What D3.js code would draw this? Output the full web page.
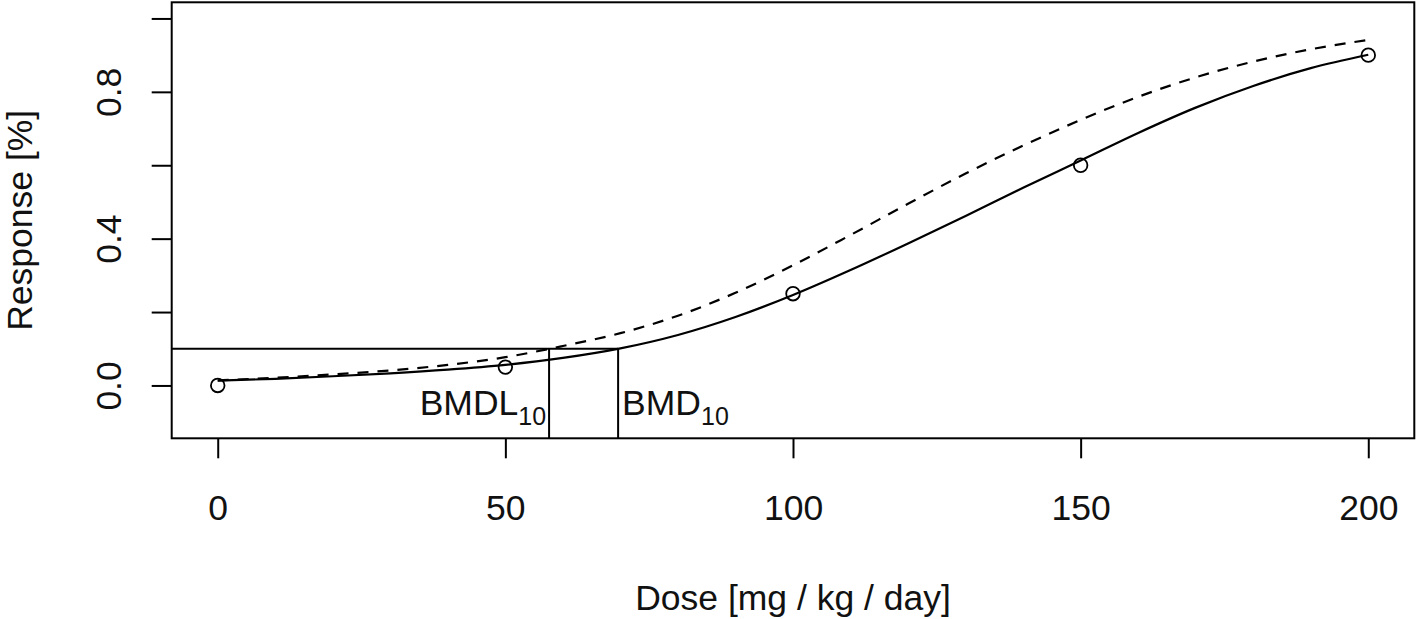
<!DOCTYPE html>
<html>
<head>
<meta charset="utf-8">
<script src="https://cdn.jsdelivr.net/npm/d3@7"></script>
<style>
  html, body { margin: 0; padding: 0; background: #fff; }
  svg { display: block; }
  text { font-family: "Liberation Sans", Arial, sans-serif; fill: #111; }
</style>
</head>
<body>
<svg id="chart" width="1418" height="619"></svg>
<script>
// ---- data ----
const doses = [0, 50, 100, 150, 200];
const responses = [0.0, 0.05, 0.25, 0.6, 0.9];

const curveDose = [0, 10, 20, 30, 40, 50, 60, 70, 80, 90, 100, 110, 120, 130, 140, 150, 160, 170, 180, 190, 200];
const fittedResp = [0.013, 0.018, 0.025, 0.033, 0.043, 0.056, 0.075, 0.101, 0.1375, 0.1865, 0.2465, 0.3145, 0.387, 0.462, 0.5385, 0.613, 0.688, 0.757, 0.816, 0.8645, 0.901];
const lowerResp  = [0.014, 0.021, 0.030, 0.041, 0.056, 0.077, 0.1075, 0.1425, 0.19, 0.2525, 0.3275, 0.41, 0.495, 0.5775, 0.6535, 0.7235, 0.7865, 0.8395, 0.8825, 0.916, 0.9415];

const bmr = 0.1;
const bmdl = 57.6;
const bmd = 69.6;

const xTicks = [0, 50, 100, 150, 200];
const xTickLabels = ["0", "50", "100", "150", "200"];
const yTicks = [0.0, 0.2, 0.4, 0.6, 0.8, 1.0];
const yTickLabels = ["0.0", "", "0.4", "", "0.8", ""];

const xTitle = "Dose [mg / kg / day]";
const yTitle = "Response [%]";

// ---- layout ----
const svg = d3.select("#chart");
const L = 171.7, R = 1414.3, T = 2.3, B = 438.3;
const x = d3.scaleLinear().domain([-8, 208]).range([L, R]);
const y = d3.scaleLinear().domain([-0.144, 1.044]).range([B, T]);
const FS = 35.5;

svg.append("defs").append("clipPath").attr("id", "plotclip")
  .append("rect").attr("x", L).attr("y", T).attr("width", R - L).attr("height", B - T);

const plot = svg.append("g").attr("clip-path", "url(#plotclip)");

// BMR horizontal line to BMD
plot.append("line")
  .attr("x1", x(-8)).attr("x2", x(bmd))
  .attr("y1", y(bmr)).attr("y2", y(bmr))
  .attr("stroke", "#000").attr("stroke-width", 2);
// vertical lines
[bmdl, bmd].forEach(v => {
  plot.append("line")
    .attr("x1", x(v)).attr("x2", x(v))
    .attr("y1", y(bmr)).attr("y2", B)
    .attr("stroke", "#000").attr("stroke-width", 2);
});

const line = d3.line().x((d, i) => x(curveDose[i])).y(d => y(d)).curve(d3.curveMonotoneX);

plot.append("path").datum(fittedResp)
  .attr("d", line).attr("fill", "none")
  .attr("stroke", "#000").attr("stroke-width", 2.2);

plot.append("path").datum(lowerResp)
  .attr("d", line).attr("fill", "none")
  .attr("stroke", "#000").attr("stroke-width", 2.2)
  .attr("stroke-dasharray", "11,9");

// points
plot.selectAll("circle.pt").data(doses).enter().append("circle")
  .attr("class", "pt")
  .attr("cx", d => x(d)).attr("cy", (d, i) => y(responses[i]))
  .attr("r", 6.8).attr("fill", "none")
  .attr("stroke", "#000").attr("stroke-width", 1.8);

// BMDL / BMD labels
const tl = svg.append("text")
  .attr("x", x(bmdl) - 3).attr("y", 415)
  .attr("text-anchor", "end").attr("font-size", FS);
tl.append("tspan").text("BMDL");
tl.append("tspan").attr("font-size", 25).attr("dy", 9.5).text("10");

const tr = svg.append("text")
  .attr("x", x(bmd) + 4).attr("y", 415)
  .attr("text-anchor", "start").attr("font-size", FS);
tr.append("tspan").text("BMD");
tr.append("tspan").attr("font-size", 25).attr("dy", 9.5).text("10");

// box
svg.append("rect")
  .attr("x", L).attr("y", T).attr("width", R - L).attr("height", B - T)
  .attr("fill", "none").attr("stroke", "#000").attr("stroke-width", 2);

// x axis
const xAxis = d3.axisBottom(x).tickValues(xTicks)
  .tickFormat((d, i) => xTickLabels[i]).tickSize(20).tickSizeOuter(0);
const gx = svg.append("g").attr("transform", `translate(0,${B})`).call(xAxis);
gx.select(".domain").remove();
gx.selectAll(".tick line").attr("stroke", "#000").attr("stroke-width", 2);
gx.selectAll(".tick text")
  .attr("font-size", FS).attr("font-family", "Liberation Sans, Arial, sans-serif")
  .attr("fill", "#111").attr("y", 82).attr("dy", null);

// y axis
const yAxis = d3.axisLeft(y).tickValues(yTicks)
  .tickFormat((d, i) => yTickLabels[i]).tickSize(20).tickSizeOuter(0);
const gy = svg.append("g").attr("transform", `translate(${L},0)`).call(yAxis);
gy.select(".domain").remove();
gy.selectAll(".tick line").attr("stroke", "#000").attr("stroke-width", 2);
gy.selectAll(".tick text")
  .attr("font-size", FS).attr("font-family", "Liberation Sans, Arial, sans-serif")
  .attr("fill", "#111")
  .attr("x", null).attr("dy", null)
  .attr("text-anchor", "middle")
  .attr("transform", `translate(${121 - L},0) rotate(-90)`);

// titles
svg.append("text")
  .attr("x", (L + R) / 2).attr("y", 610)
  .attr("text-anchor", "middle").attr("font-size", FS)
  .text(xTitle);

svg.append("text")
  .attr("transform", `translate(32,${(T + B) / 2}) rotate(-90)`)
  .attr("text-anchor", "middle").attr("font-size", FS)
  .text(yTitle);
</script>
</body>
</html>
